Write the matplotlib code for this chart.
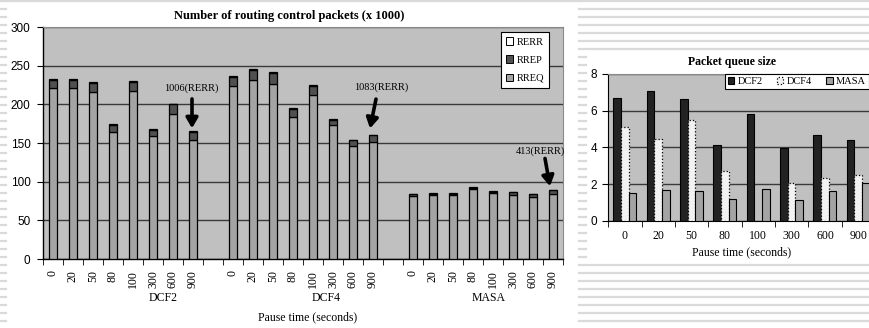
import numpy as np
import matplotlib.pyplot as plt
from matplotlib.lines import Line2D
from matplotlib.patches import Patch

SERIF = 'Liberation Serif'
SANS = 'Liberation Sans'

# Left chart: routing control packets (x 1000)
pause = ['0', '20', '50', '80', '100', '300', '600', '900']
groups = ['DCF2', 'DCF4', 'MASA']
rreq = {
    'DCF2': [221.6, 221.6, 216.0, 164.0, 217.0, 159.0, 187.5, 153.5],
    'DCF4': [223.3, 232.0, 226.7, 183.6, 211.6, 172.8, 146.0, 151.3],
    'MASA': [81.5, 82.8, 83.0, 90.0, 85.4, 82.8, 80.3, 83.7],
}
rrep = {
    'DCF2': [10.2, 10.4, 11.5, 9.6, 12.0, 8.0, 12.5, 10.5],
    'DCF4': [12.3, 12.0, 13.7, 10.1, 12.0, 6.5, 7.3, 8.4],
    'MASA': [2.1, 1.8, 1.6, 2.3, 1.7, 3.5, 3.3, 4.9],
}
rerr = {
    'DCF2': [1.0, 1.0, 1.0, 1.0, 1.0, 1.0, 1.0, 1.006],
    'DCF4': [1.0, 2.0, 1.0, 2.0, 1.0, 2.2, 1.0, 1.083],
    'MASA': [0.4, 0.4, 0.4, 0.4, 0.4, 0.4, 0.4, 0.413],
}
notes = ['1006(RERR)', '1083(RERR)', '413(RERR)']

# Right chart: packet queue size
q_dcf2 = [6.67, 7.07, 6.62, 4.15, 5.8, 3.98, 4.7, 4.42]
q_dcf4 = [5.09, 4.44, 5.49, 2.72, np.nan, 2.05, 2.35, 2.49]
q_masa = [1.53, 1.68, 1.61, 1.21, 1.74, 1.14, 1.61, 2.05]

W, H = 869, 328
fig = plt.figure(figsize=(W / 100, H / 100), dpi=100)

# background: white slides with light stripes
bg = fig.add_axes([0, 0, 1, 1])
bg.set_xlim(0, W)
bg.set_ylim(H, 0)
bg.axis('off')
stripe = dict(color='#dadada', lw=1.6)
for y in np.arange(1.3, H, 8.0):
    bg.add_line(Line2D([0, 6], [y, y], **stripe))
    if y < 51 or y > 263:
        bg.add_line(Line2D([579, W], [y, y], **stripe))
    else:
        bg.add_line(Line2D([579, 586], [y, y], **stripe))
bg.add_line(Line2D([6, 579], [1.3, 1.3], **stripe))


def px_axes(l, r, t, b):
    return fig.add_axes([l / W, (H - b) / H, (r - l) / W, (b - t) / H])


# ---------------- left chart ----------------
ax = px_axes(43, 563, 27, 259)
ax.set_facecolor('#c0c0c0')
n = len(pause)
idx = {}
for g, name in enumerate(groups):
    idx[name] = np.arange(n) + g * (n + 1)

bw = 0.42
for name in groups:
    x = idx[name]
    a = np.array(rreq[name])
    b = np.array(rrep[name])
    c = np.array(rerr[name])
    ax.bar(x, a, bw, color='#a4a4a4', edgecolor='black', lw=0.9, zorder=3)
    ax.bar(x, b, bw, bottom=a, color='#505050', edgecolor='black', lw=0.9, zorder=3)
    ax.bar(x, c, bw, bottom=a + b, color='white', edgecolor='black', lw=0.9, zorder=3)

ncat = len(groups) * (n + 1) - 1
ax.set_xlim(-0.5, ncat - 0.5)
ax.set_ylim(0, 300)
ax.set_yticks(np.arange(0, 301, 50))
ax.grid(axis='y', color='#3a3a3a', lw=1.0, zorder=1)
ax.set_axisbelow(True)
for s in ['top', 'right']:
    ax.spines[s].set_color('#8a8a8a')
    ax.spines[s].set_linewidth(0.8)
for s in ['left', 'bottom']:
    ax.spines[s].set_color('black')
    ax.spines[s].set_linewidth(1.0)

xt = np.concatenate([idx[g] for g in groups])
ax.set_xticks(xt)
ax.set_xticklabels(pause * len(groups), rotation=90, family=SERIF, fontsize=8.5)
ax.set_xticks(np.arange(-0.5, ncat, 1.0), minor=True)
ax.tick_params(axis='x', which='major', length=0, pad=8)
ax.tick_params(axis='x', which='minor', length=4, direction='out')
ax.tick_params(axis='y', length=4, direction='out', pad=5, labelsize=8.5)
for t in ax.get_yticklabels():
    t.set_family(SANS)

for g, name in enumerate(groups):
    ax.text(5.5 + g * 8.15, -50, name, ha='center', va='center',
            family=SERIF, fontsize=8.5)
ax.text(12.75, -75, 'Pause time (seconds)', ha='center', va='center',
        family=SERIF, fontsize=8.5, clip_on=False)
ax.text(0.474, 1.047, 'Number of routing control packets (x 1000)',
        transform=ax.transAxes, ha='center', va='center',
        family=SERIF, fontsize=9, fontweight='bold')

arrow = dict(arrowstyle='-|>,head_width=0.35,head_length=0.6', lw=2.6,
             color='black', shrinkA=0, shrinkB=0)
last = [idx[g][-1] for g in groups]
tops = [rreq[g][-1] + rrep[g][-1] + rerr[g][-1] for g in groups]
# arrows for the RERR notes
ax.text(last[0] - 0.1, tops[0] + 56, notes[0], ha='center', va='center',
        family=SERIF, fontsize=7.5)
ax.annotate('', xy=(last[0] - 0.05, tops[0] + 4), xytext=(last[0] - 0.05, tops[0] + 42),
            arrowprops=arrow)
ax.text(last[1] + 0.4, tops[1] + 61, notes[1], ha='center', va='center',
        family=SERIF, fontsize=7.5)
ax.annotate('', xy=(last[1] - 0.15, tops[1] + 8), xytext=(last[1] + 0.15, tops[1] + 46),
            arrowprops=arrow)
ax.text(last[2] - 0.65, tops[2] + 51, notes[2], ha='center', va='center',
        family=SERIF, fontsize=7.5)
ax.annotate('', xy=(last[2] - 0.15, tops[2] + 5), xytext=(last[2] - 0.4, tops[2] + 41),
            arrowprops=arrow)

handles = [Patch(facecolor='white', edgecolor='black', lw=0.7),
           Patch(facecolor='#505050', edgecolor='black', lw=0.7),
           Patch(facecolor='#a4a4a4', edgecolor='black', lw=0.7)]
leg = ax.legend(handles, ['RERR', 'RREP', 'RREQ'], loc='upper right',
                bbox_to_anchor=(0.973, 0.978), prop={'family': SERIF, 'size': 7.5},
                handlelength=0.7, handleheight=0.7, handletextpad=0.3,
                labelspacing=0.85, borderpad=0.5, fancybox=False,
                framealpha=1, edgecolor='black', borderaxespad=0)
leg.get_frame().set_linewidth(0.8)

# ---------------- right chart ----------------
ax2 = px_axes(608.3, 875, 74, 220.7)
ax2.set_facecolor('#c0c0c0')
xr = np.arange(len(pause))
w = 0.23
ax2.bar(xr - w, q_dcf2, w, color='#222222', edgecolor='black', lw=0.8, zorder=3,
        label='DCF2')
ax2.bar(xr, q_dcf4, w, color='#f2f2f2', edgecolor='black', lw=0.9, ls=':', zorder=3,
        label='DCF4')
ax2.bar(xr + w, q_masa, w, color='#a4a4a4', edgecolor='black', lw=0.8, zorder=3,
        label='MASA')
ax2.set_xlim(-0.5, len(pause) - 0.5)
ax2.set_ylim(0, 8)
ax2.set_yticks(np.arange(0, 9, 2))
ax2.grid(axis='y', color='#3a3a3a', lw=1.0, zorder=1)
ax2.set_axisbelow(True)
for s in ['top', 'right']:
    ax2.spines[s].set_color('#8a8a8a')
    ax2.spines[s].set_linewidth(0.8)
ax2.set_xticks(xr)
ax2.set_xticklabels(pause, family=SERIF, fontsize=8.5)
ax2.set_xticks(np.arange(-0.5, len(pause), 1.0), minor=True)
ax2.tick_params(axis='x', which='major', length=0, pad=7)
ax2.tick_params(axis='x', which='minor', length=4, direction='out')
ax2.tick_params(axis='y', length=4, direction='out', pad=4, labelsize=8.5)
for t in ax2.get_yticklabels():
    t.set_family(SANS)
ax2.set_xlabel('Pause time (seconds)', family=SERIF, fontsize=8.5, labelpad=3)
ax2.text(0.464, 1.082, 'Packet queue size', transform=ax2.transAxes,
         ha='center', va='center', family=SERIF, fontsize=8.5, fontweight='bold')
leg2 = ax2.legend(loc='upper left', bbox_to_anchor=(0.4376, 1.0), ncol=3,
                  prop={'family': SERIF, 'size': 7.5}, handlelength=0.6,
                  handleheight=0.6, handletextpad=0.3, columnspacing=1.4,
                  borderpad=0.3, fancybox=False, framealpha=1, edgecolor='black',
                  borderaxespad=0)
leg2.get_frame().set_linewidth(0.8)

fig.savefig('out.png', dpi=100)
